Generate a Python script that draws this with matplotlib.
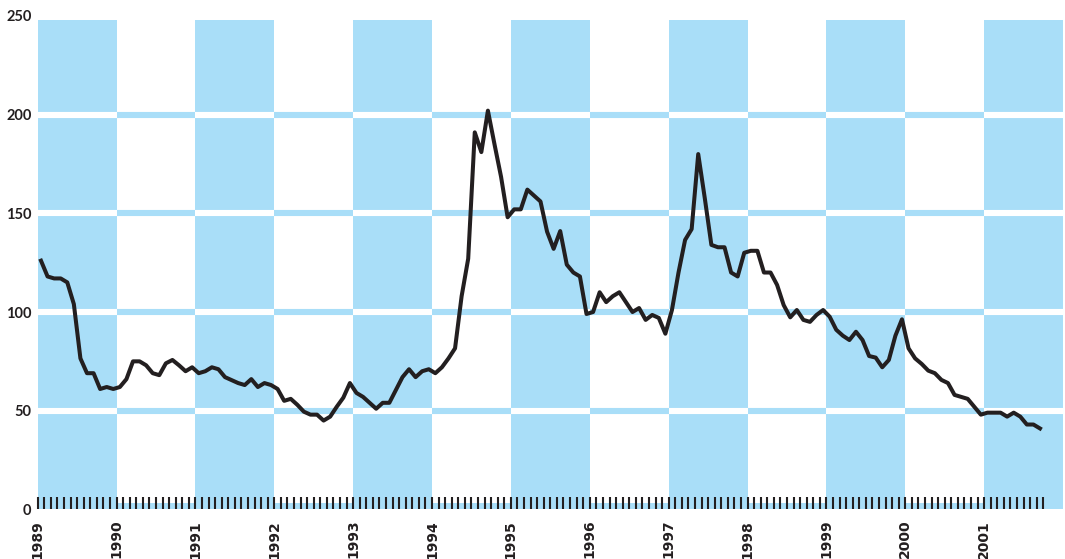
import numpy as np
import matplotlib.pyplot as plt

# Valores mensuales, de enero 1989 a septiembre 2001
valores = [126, 118, 117, 117, 115, 104, 76.5, 69, 69, 61, 62, 61,
           62, 66, 75, 75, 73, 69, 68, 74, 75.7, 73, 70, 72,
           69, 70, 72, 71, 67, 65.5, 64, 63, 66, 62, 64, 63,
           61, 55, 56, 53, 49.5, 48, 48, 45, 47, 52, 56.6, 64,
           59, 57, 54, 51, 54, 54, 60.5, 67, 71, 67, 70, 71,
           69, 72, 76.5, 81.6, 108, 127, 191, 181, 202, 185, 168.5, 148,
           152, 152, 162, 159, 156, 140.7, 132, 141, 124, 120, 118, 99,
           100, 110, 105, 108, 110, 105, 100, 102, 96, 98.5, 97, 89,
           101, 120, 136.5, 142, 180, 157.6, 134, 132.8, 132.8, 120, 118, 130,
           131, 131, 120, 120, 113.7, 103.5, 97.3, 101, 96, 95, 98.5, 101,
           97.6, 91, 88, 85.8, 90, 85.8, 77.7, 76.9, 72, 75.7, 88, 96.3,
           81.6, 76.5, 73.7, 70.3, 69, 65.6, 64, 58, 57, 56, 52, 48,
           49, 49, 49, 47, 49, 47, 43, 43, 41]

anios = list(range(1989, 2002))
niveles = [50, 100, 150, 200]
etiquetas_y = [0, 50, 100, 150, 200, 250]

azul = '#a9def8'
negro = '#231f20'

# Cada valor en el centro de su mes
fechas = 1989 + (np.arange(len(valores)) + 0.5) / 12
meses = 1989 + np.arange(len(valores) + 1) / 12

fig = plt.figure(figsize=(10.65, 5.59), dpi=100)
ax = fig.add_axes([37.7 / 1065, 49.6 / 559, 1025.3 / 1065, 493.5 / 559])

# Bandas por año: azul / blanco, con rejilla invertida
for i, anio in enumerate(anios):
    if i % 2 == 0:
        ax.axvspan(anio, anio + 1, ymin=0, ymax=0.992, color=azul, lw=0, zorder=1)
        color_rejilla = 'white'
    else:
        ax.axvspan(anio, anio + 1, ymin=0, ymax=3.3 / 250, color=azul, lw=0, zorder=1)
        color_rejilla = azul
    ax.hlines(niveles, anio, anio + 1, colors=color_rejilla, lw=4.4,
              capstyle='butt', zorder=2)

ax.plot(fechas, valores, color=negro, lw=2.9, zorder=4)

ax.set_xlim(anios[0], anios[-1] + 1)
ax.set_ylim(0, 250)
ax.set_axisbelow(False)

for lado in ax.spines.values():
    lado.set_visible(False)

ax.set_xticks(anios)
ax.set_xticklabels([str(a) for a in anios], rotation=90,
                   fontfamily='DejaVu Sans', fontweight='bold', fontsize=10,
                   color=negro)
ax.set_xticks(meses, minor=True)
ax.tick_params(axis='x', which='both', direction='in', length=9, width=1.5,
               color=negro, pad=7.5)

ax.set_yticks(etiquetas_y)
ax.set_yticklabels([str(v) for v in etiquetas_y], fontfamily='Lato',
                   fontweight='bold', fontsize=10.5, color=negro)
ax.tick_params(axis='y', length=0, pad=4.5)

fig.savefig('out.png', dpi=100)
